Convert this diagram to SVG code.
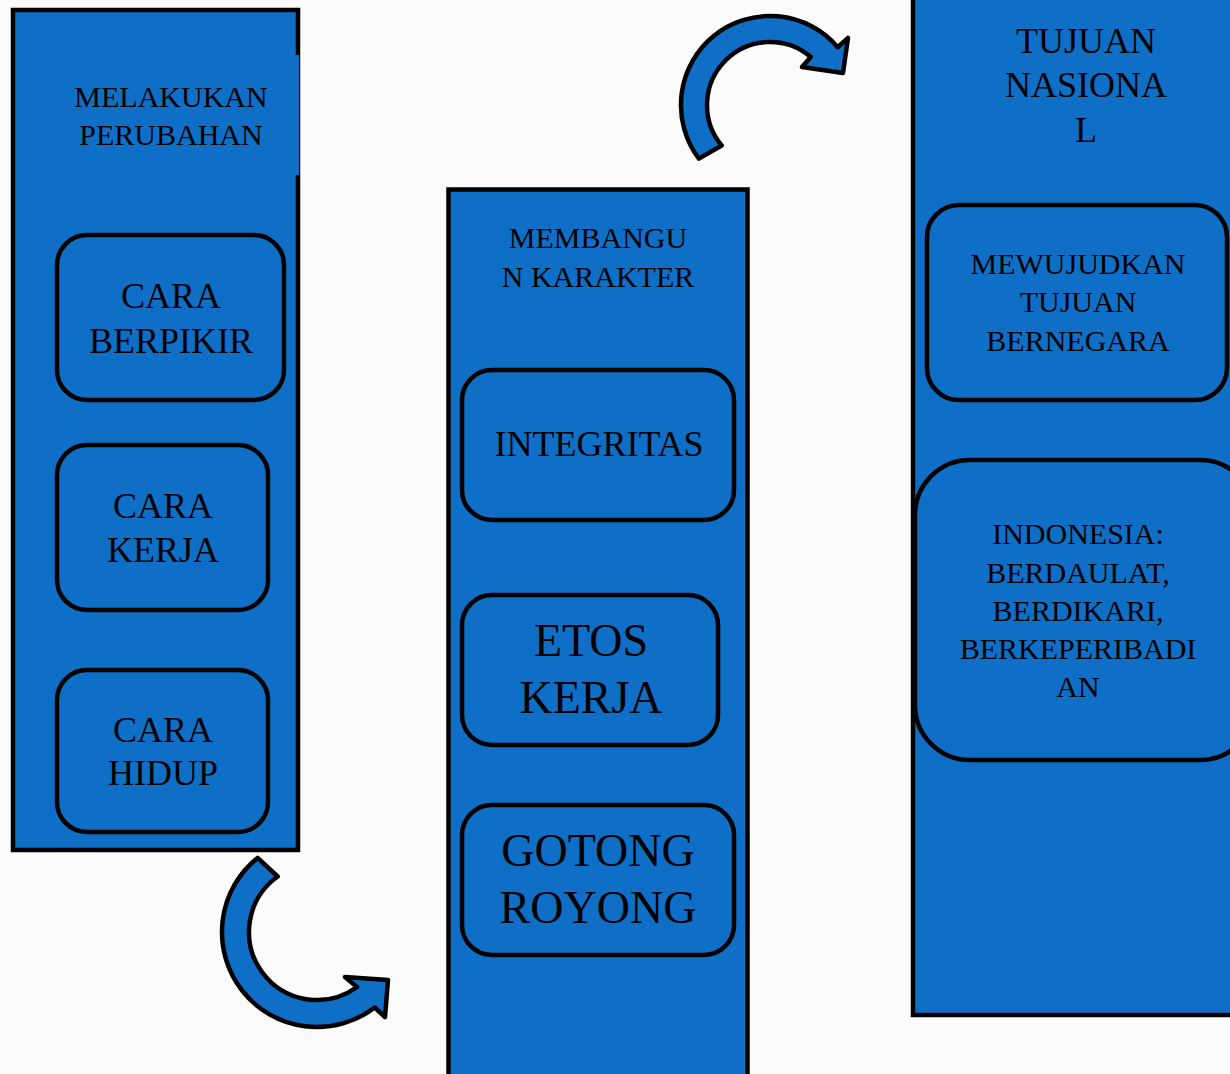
<svg xmlns="http://www.w3.org/2000/svg" width="1230" height="1074" viewBox="0 0 1230 1074">
<style>
.col{fill:#0F6FC6;stroke:#000;stroke-width:4.5}
.box{fill:#0F6FC6;stroke:#000;stroke-width:4.5}
.arrow{fill:#0F6FC6;stroke:#000;stroke-width:4.5;stroke-linejoin:round}
text{font-family:"Liberation Serif","Times New Roman",serif;fill:#000;text-anchor:middle}
.s{font-size:30px}
.m{font-size:36px}
.l{font-size:46px}
</style>
<rect x="0" y="0" width="1230" height="1074" fill="#fbfbfb"/>
<g id="col-melakukan">
<rect class="col" x="13" y="10" width="285" height="840"/>
<rect x="294" y="55" width="5" height="120" fill="#0F6FC6"/>
<text class="s" x="171" y="107">MELAKUKAN</text>
<text class="s" x="171" y="145">PERUBAHAN</text>
</g>
<g id="box-berpikir">
<rect class="box" x="57" y="235" width="227" height="165" rx="30"/>
<text class="m" x="171" y="308">CARA</text>
<text class="m" x="171" y="353">BERPIKIR</text>
</g>
<g id="box-kerja">
<rect class="box" x="57" y="445" width="211" height="165" rx="30"/>
<text class="m" x="163" y="518">CARA</text>
<text class="m" x="163" y="562">KERJA</text>
</g>
<g id="box-hidup">
<rect class="box" x="57" y="670" width="211" height="162" rx="30"/>
<text class="m" x="163" y="742">CARA</text>
<text class="m" x="163" y="785">HIDUP</text>
</g>
<g id="col-membangun">
<rect class="col" x="448.5" y="189.5" width="299" height="910"/>
<text class="s" x="598" y="248">MEMBANGU</text>
<text class="s" x="598" y="287">N KARAKTER</text>
</g>
<g id="box-integritas">
<rect class="box" x="462" y="370" width="272" height="150" rx="30"/>
<text class="m" x="599" y="456">INTEGRITAS</text>
</g>
<g id="box-etos">
<rect class="box" x="462" y="595" width="256" height="150" rx="30"/>
<text class="l" x="591" y="656">ETOS</text>
<text class="l" x="591" y="713">KERJA</text>
</g>
<g id="box-gotong">
<rect class="box" x="462" y="805" width="272" height="150" rx="30"/>
<text class="l" x="598" y="866">GOTONG</text>
<text class="l" x="598" y="923">ROYONG</text>
</g>
<g id="col-tujuan">
<rect class="col" x="913" y="-10" width="340" height="1025"/>
<text class="m" x="1086" y="53">TUJUAN</text>
<text class="m" x="1086" y="97">NASIONA</text>
<text class="m" x="1086" y="142">L</text>
</g>
<g id="box-mewujudkan">
<rect class="box" x="927" y="205" width="300" height="195" rx="32"/>
<text class="s" x="1078" y="274">MEWUJUDKAN</text>
<text class="s" x="1078" y="312">TUJUAN</text>
<text class="s" x="1078" y="351">BERNEGARA</text>
</g>
<g id="box-indonesia">
<rect class="box" x="915" y="460" width="340" height="300" rx="55"/>
<text class="s" x="1078" y="544">INDONESIA:</text>
<text class="s" x="1078" y="583">BERDAULAT,</text>
<text class="s" x="1078" y="621">BERDIKARI,</text>
<text class="s" x="1078" y="659">BERKEPERIBADI</text>
<text class="s" x="1078" y="697">AN</text>
</g>
<g id="connectors">
<path class="arrow" d="M 257.6,857.9 A 95 95 0 0 0 242.1,990.5 A 95 95 0 0 0 374.7,1007.5 L 385,1017 L 388,980 L 345,977 L 357,987 A 68 68 0 0 1 262,972 A 68 68 0 0 1 277.7,876.5 Z"/>
<path class="arrow" d="M 698.9,158.6 A 89 89 0 0 1 714,35.8 A 89 89 0 0 1 837.7,47.2 L 848,38 L 843,73 L 802,67 L 810.8,57 A 63 63 0 0 0 725.5,60.5 A 63 63 0 0 0 721.7,145.5 Z"/>
</g>
</svg>
